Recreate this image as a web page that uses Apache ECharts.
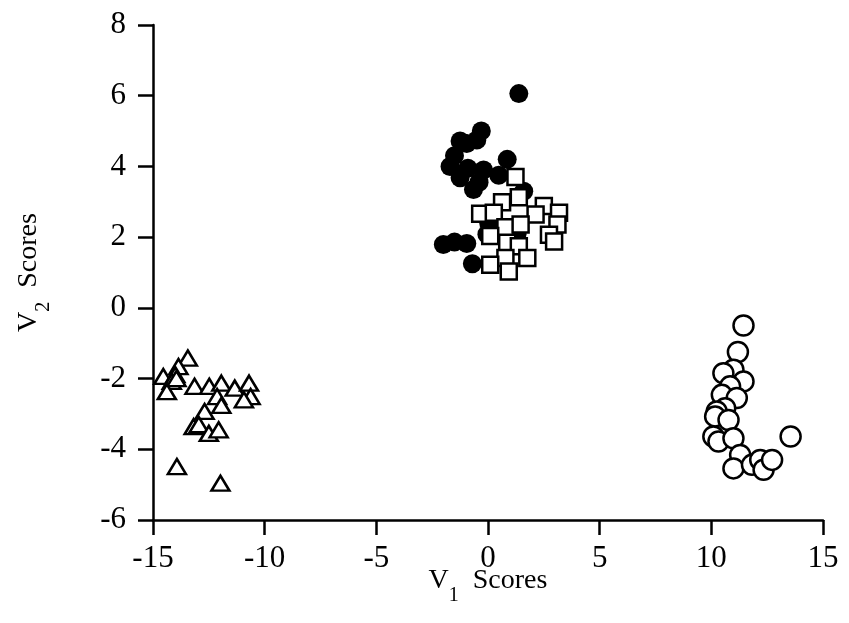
<!DOCTYPE html>
<html>
<head>
<meta charset="utf-8">
<script src="https://cdn.jsdelivr.net/npm/echarts@6/dist/echarts.min.js"></script>
<style>
  html, body { margin: 0; padding: 0; background: #fff; }
  #chart { width: 849px; height: 623px; }
</style>
</head>
<body>
<div id="chart"></div>
<script>
// Discriminant scores (V1, V2) for four groups
const groupFilledCircles = [
  [1.38, 6.06], [-0.3, 5.0], [-0.5, 4.75], [-1.25, 4.72], [-0.95, 4.65],
  [-1.5, 4.3], [-1.7, 4.0], [-1.25, 3.68], [-0.65, 3.35], [-0.2, 3.9],
  [-0.9, 3.95], [0.86, 4.2], [0.48, 3.75], [-0.4, 3.55], [1.6, 3.3],
  [-2.0, 1.79], [-1.5, 1.86], [-0.95, 1.82], [-0.7, 1.25],
  [0.03, 2.4], [-0.05, 2.08], [1.3, 2.08]
];
const groupSquares = [
  [1.23, 3.7], [1.38, 3.13], [0.63, 2.99], [-0.35, 2.66], [0.26, 2.69],
  [2.5, 2.88], [3.18, 2.69], [2.13, 2.64], [0.78, 2.28], [1.46, 2.36],
  [3.11, 2.36], [2.73, 2.07], [2.96, 1.88], [0.1, 2.03], [0.86, 1.84],
  [1.38, 1.74], [0.78, 1.41], [1.76, 1.41], [0.1, 1.22], [0.93, 1.03]
];
const groupTriangles = [
  [-13.44, -1.42], [-13.86, -1.66], [-14.54, -1.94], [-14.0, -1.89],
  [-14.16, -2.08], [-13.95, -2.0], [-14.38, -2.37], [-15.09, -2.6],
  [-13.14, -2.22], [-12.48, -2.22], [-11.94, -2.13], [-11.34, -2.27],
  [-10.7, -2.13], [-10.63, -2.51], [-10.93, -2.6], [-12.13, -2.51],
  [-11.94, -2.76], [-12.69, -2.93], [-13.18, -3.36], [-12.95, -3.3],
  [-12.5, -3.55], [-12.06, -3.45], [-13.93, -4.49], [-11.98, -4.96]
];
const groupOpenCircles = [
  [11.44, -0.5], [11.19, -1.25], [10.99, -1.75], [10.54, -1.85],
  [11.44, -2.08], [10.84, -2.22], [10.47, -2.46], [11.14, -2.55],
  [10.62, -2.84], [10.24, -2.93], [10.17, -3.07], [10.77, -3.17],
  [10.09, -3.64], [10.32, -3.78], [10.99, -3.69], [13.55, -3.64],
  [11.29, -4.16], [10.99, -4.54], [11.82, -4.44], [12.19, -4.3],
  [12.34, -4.58], [12.72, -4.3]
];

const xTicks = [-15, -10, -5, 0, 5, 10, 15];
const yTicks = [-6, -4, -2, 0, 2, 4, 6, 8];

const serif = 'Liberation Serif';
const ink = '#000';

const nameRich = {
  v: { fontFamily: serif, fontSize: 28, color: ink, lineHeight: 30 },
  sub: { fontFamily: serif, fontSize: 20, color: ink, lineHeight: 20, padding: [30, 0, 0, 0] }
};

const chart = echarts.init(document.getElementById('chart'), null, { renderer: 'canvas' });

chart.setOption({
  animation: false,
  backgroundColor: '#fff',
  grid: {
    left: 153, right: 26, top: 25, bottom: 103,
    containLabel: false, outerBoundsMode: 'none'
  },
  xAxis: {
    type: 'value',
    min: xTicks[0], max: xTicks[xTicks.length - 1], interval: 5,
    name: '{v|V}{sub|1}{v|  Scores}',
    nameLocation: 'middle', nameGap: 46, nameMoveOverlap: false,
    nameTextStyle: { rich: nameRich },
    axisLine: { show: true, onZero: false, lineStyle: { color: ink, width: 2.5 } },
    axisTick: { show: true, inside: false, length: 15, lineStyle: { color: ink, width: 2.5 } },
    axisLabel: { fontFamily: serif, fontSize: 31, color: ink, margin: 23 },
    splitLine: { show: false }
  },
  yAxis: {
    type: 'value',
    min: yTicks[0], max: yTicks[yTicks.length - 1], interval: 2,
    name: '{v|V}{sub|2}{v|  Scores}',
    nameLocation: 'middle', nameGap: 109, nameRotate: 90, nameMoveOverlap: false,
    nameTextStyle: { rich: nameRich },
    axisLine: { show: true, onZero: false, lineStyle: { color: ink, width: 2.5 } },
    axisTick: { show: true, inside: false, length: 15, lineStyle: { color: ink, width: 2.5 } },
    axisLabel: { fontFamily: serif, fontSize: 31, color: ink, margin: 27 },
    splitLine: { show: false }
  },
  series: [
    {
      type: 'scatter', data: groupFilledCircles, symbol: 'circle', symbolSize: 19,
      itemStyle: { color: ink, borderColor: ink, borderWidth: 0, opacity: 1 }
    },
    {
      type: 'scatter', data: groupSquares, symbol: 'rect', symbolSize: 16,
      itemStyle: { color: '#fff', borderColor: ink, borderWidth: 2.5, opacity: 1 }
    },
    {
      type: 'scatter', data: groupTriangles, symbol: 'triangle', symbolSize: [18, 15],
      itemStyle: { color: '#fff', borderColor: ink, borderWidth: 2.5, opacity: 1 }
    },
    {
      type: 'scatter', data: groupOpenCircles, symbol: 'circle', symbolSize: 20,
      itemStyle: { color: '#fff', borderColor: ink, borderWidth: 2.5, opacity: 1 }
    }
  ]
});
</script>
</body>
</html>
